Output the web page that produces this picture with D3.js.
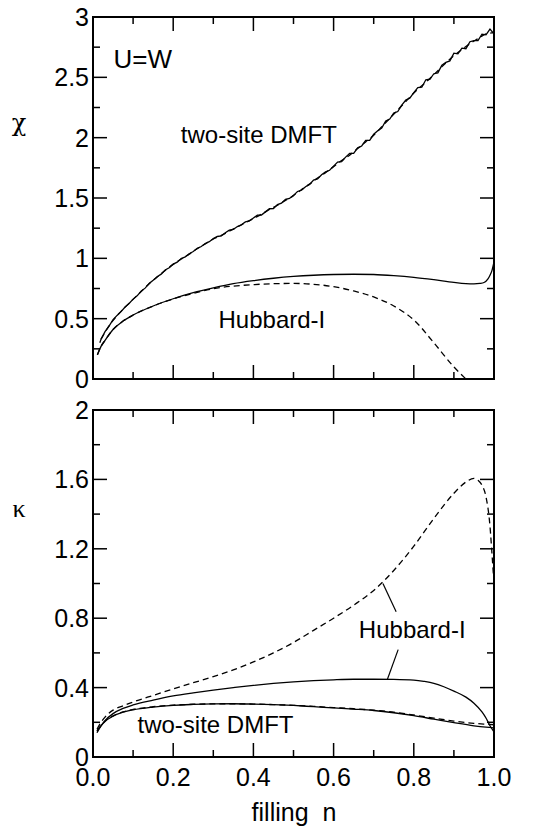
<!DOCTYPE html>
<html><head><meta charset="utf-8">
<script src="https://cdn.jsdelivr.net/npm/d3@7"></script>
<style>
html,body{margin:0;padding:0;background:#fff;}
svg{display:block;}
text{font-family:"Liberation Sans",Arial,Helvetica,sans-serif;fill:#000;}
</style></head>
<body>
<svg id="chart" width="549" height="829"></svg>
<script>
// ---------------- data ----------------
// chi, two-site DMFT (solid), n = 0.02 .. 1.00 step 0.01
const chiDmftSolidN0 = 0.02, chiDmftSolidStep = 0.01;
const chiDmftSolid = [0.33,0.392,0.438,0.491,0.527,0.558,0.597,0.626,0.662,0.689,0.727,0.753,0.791,0.818,0.847,0.869,0.903,0.922,0.952,0.968,
0.998,1.012,1.038,1.057,1.083,1.098,1.123,1.138,1.163,
1.181,1.186,1.212,1.233,1.239,1.263,1.278,1.302,1.310,1.334,1.358,1.359,1.385,1.411,1.413,1.445,1.457,1.488,1.496,1.522,
1.554,1.564,1.594,1.613,1.648,1.658,1.693,1.716,1.730,1.764,
1.797,1.802,1.839,1.869,1.870,1.916,1.931,1.978,1.978,2.028,2.058,2.079,2.139,2.154,2.204,2.217,2.270,2.312,2.327,2.374,
2.415,2.418,2.48,2.484,2.53,2.537,2.601,2.624,2.636,2.70,2.695,2.742,2.737,2.795,2.805,2.805,2.858,2.852,2.90,2.86];
// chi, two-site DMFT (dashed)
const chiDmftDashN = [0.02,0.04,0.06,0.08,0.10,0.12,0.14,0.16,0.18,0.20,0.22,0.24,0.26,0.28,0.30,0.32,0.34,0.36,0.38,0.40,0.42,0.44,0.46,0.48,0.50,0.52,0.54,0.56,0.58,0.60,0.62,0.64,0.66,0.68,0.70,0.72,0.74,0.76,0.78,0.80,0.82,0.84,0.86,0.88,0.90,0.92,0.94,0.96,0.98,1.00];
const chiDmftDash = [0.33,0.44,0.525,0.595,0.66,0.725,0.79,0.845,0.90,0.95,0.995,1.035,1.08,1.12,1.16,1.19,1.225,1.26,1.295,1.33,1.365,1.405,1.44,1.48,1.52,1.57,1.615,1.665,1.71,1.76,1.81,1.855,1.91,1.965,2.02,2.09,2.16,2.23,2.30,2.37,2.43,2.49,2.555,2.62,2.68,2.73,2.78,2.82,2.86,2.87];
// chi, Hubbard-I
const chiHubSolidN = [0.011,0.02,0.03,0.05,0.075,0.1,0.15,0.2,0.25,0.3,0.35,0.4,0.45,0.5,0.55,0.6,0.65,0.7,0.75,0.8,0.85,0.9,0.93,0.95,0.965,0.975,0.985,0.99,0.995,1.0];
const chiHubSolid = [0.20,0.27,0.32,0.41,0.48,0.53,0.605,0.665,0.715,0.755,0.79,0.815,0.835,0.85,0.86,0.866,0.868,0.866,0.857,0.843,0.823,0.80,0.79,0.788,0.792,0.80,0.83,0.86,0.90,0.97];
const chiHubDashN = [0.011,0.02,0.03,0.05,0.075,0.1,0.15,0.2,0.25,0.3,0.35,0.4,0.45,0.5,0.55,0.6,0.65,0.7,0.75,0.8,0.85,0.9,0.93];
const chiHubDash = [0.20,0.27,0.32,0.41,0.48,0.53,0.605,0.663,0.71,0.748,0.77,0.782,0.79,0.792,0.785,0.765,0.73,0.68,0.605,0.49,0.30,0.10,0.0];

// kappa, Hubbard-I
const kapHubDashN = [0.01,0.02,0.03,0.05,0.075,0.1,0.15,0.2,0.25,0.3,0.35,0.4,0.45,0.5,0.55,0.6,0.65,0.7,0.75,0.8,0.85,0.9,0.93,0.95,0.96,0.97,0.98,0.99,0.995,1.0];
const kapHubDash = [0.16,0.20,0.23,0.27,0.295,0.317,0.355,0.392,0.428,0.463,0.502,0.548,0.60,0.66,0.73,0.80,0.875,0.96,1.075,1.215,1.375,1.52,1.585,1.606,1.595,1.567,1.50,1.33,1.17,1.0];
const kapHubSolidN = [0.01,0.02,0.03,0.05,0.075,0.1,0.15,0.2,0.25,0.3,0.35,0.4,0.45,0.5,0.55,0.6,0.65,0.7,0.75,0.8,0.825,0.85,0.875,0.9,0.93,0.95,0.97,0.98,0.99,1.0];
const kapHubSolid = [0.14,0.18,0.21,0.25,0.28,0.30,0.328,0.352,0.37,0.386,0.40,0.413,0.424,0.433,0.44,0.445,0.448,0.448,0.447,0.443,0.436,0.425,0.405,0.38,0.345,0.31,0.26,0.225,0.18,0.145];
// kappa, two-site DMFT
const kapDmftN = [0.01,0.02,0.03,0.05,0.075,0.1,0.15,0.2,0.25,0.3,0.35,0.4,0.45,0.5,0.55,0.6,0.65,0.7,0.75,0.8,0.85,0.9,0.95,0.98,1.0];
const kapDmftSolid = [0.15,0.18,0.205,0.235,0.258,0.272,0.288,0.298,0.303,0.306,0.307,0.305,0.302,0.297,0.29,0.283,0.276,0.268,0.255,0.238,0.218,0.198,0.18,0.172,0.168];
const kapDmftDash  = [0.15,0.182,0.207,0.237,0.26,0.274,0.29,0.299,0.304,0.306,0.307,0.305,0.302,0.298,0.292,0.285,0.278,0.27,0.258,0.242,0.224,0.207,0.194,0.189,0.186];

// axes ticks
const xMajor = [0.0,0.2,0.4,0.6,0.8,1.0];
const xMinor = [0.1,0.3,0.5,0.7,0.9];
const xTickLabels = ["0.0","0.2","0.4","0.6","0.8","1.0"];
const chiMajor = [0,0.5,1,1.5,2,2.5,3];
const chiMinor = [0.25,0.75,1.25,1.75,2.25,2.75];
const chiTickLabels = ["0","0.5","1","1.5","2","2.5","3"];
const kapMajor = [0,0.4,0.8,1.2,1.6,2.0];
const kapMinor = [0.2,0.6,1.0,1.4,1.8];
const kapTickLabels = ["0","0.4","0.8","1.2","1.6","2"];

// annotations (data coords)
const chiNotes = [{t:"U=W", n:0.051, v:2.576},{t:"two-site DMFT", n:0.219, v:1.955},{t:"Hubbard-I", n:0.313, v:0.42}];
const kapNotes = [{t:"Hubbard-I", n:0.663, v:0.685},{t:"two-site DMFT", n:0.111, v:0.137}];
const kapLeaders = [[[0.723,1.0],[0.756,0.837]],[[0.761,0.619],[0.734,0.447]]];

// ---------------- layout ----------------
const svg = d3.select("#chart");
const L = 93, R = 494;
const x = d3.scaleLinear().domain([0,1]).range([L,R]);
const yChi = d3.scaleLinear().domain([0,3]).range([379,17]);
const yKap = d3.scaleLinear().domain([0,2]).range([757,410]);
const FS = 25;

function zip(ns, vs){ return ns.map((n,i)=>[n, vs[i]]); }

function panel(y, major, minor, labels, showX){
  const g = svg.append("g");
  const [y0,y1] = y.range();
  const bigT = 14, smT = 7;
  const tk = g.append("g").attr("stroke","#000").attr("stroke-width",1.5);
  major.forEach(v=>{
    tk.append("line").attr("x1",L).attr("x2",L+bigT).attr("y1",y(v)).attr("y2",y(v));
    tk.append("line").attr("x1",R).attr("x2",R-bigT).attr("y1",y(v)).attr("y2",y(v));
  });
  minor.forEach(v=>{
    tk.append("line").attr("x1",L).attr("x2",L+smT).attr("y1",y(v)).attr("y2",y(v));
    tk.append("line").attr("x1",R).attr("x2",R-smT).attr("y1",y(v)).attr("y2",y(v));
  });
  xMajor.forEach(n=>{
    tk.append("line").attr("x1",x(n)).attr("x2",x(n)).attr("y1",y0).attr("y2",y0-bigT);
    tk.append("line").attr("x1",x(n)).attr("x2",x(n)).attr("y1",y1).attr("y2",y1+bigT);
  });
  xMinor.forEach(n=>{
    tk.append("line").attr("x1",x(n)).attr("x2",x(n)).attr("y1",y0).attr("y2",y0-smT);
    tk.append("line").attr("x1",x(n)).attr("x2",x(n)).attr("y1",y1).attr("y2",y1+smT);
  });
  g.append("rect").attr("x",L).attr("y",y1).attr("width",R-L).attr("height",y0-y1)
    .attr("fill","none").attr("stroke","#000").attr("stroke-width",2);
  major.forEach((v,i)=>{
    g.append("text").attr("x",L-4).attr("y",y(v)).attr("dy","0.36em")
      .attr("text-anchor","end").attr("font-size",FS).text(labels[i]);
  });
  if(showX){
    xMajor.forEach((n,i)=>{
      g.append("text").attr("x",x(n)).attr("y",y0+29).attr("text-anchor","middle")
        .attr("font-size",FS).text(xTickLabels[i]);
    });
  }
  return g;
}

function curve(y, pts, dashed){
  const line = d3.line().x(d=>x(d[0])).y(d=>y(d[1])).curve(d3.curveMonotoneX);
  svg.append("path").attr("d", line(pts)).attr("fill","none").attr("stroke","#000")
    .attr("stroke-width",1.3).attr("stroke-dasharray", dashed ? "6,4" : null);
}

// top panel
panel(yChi, chiMajor, chiMinor, chiTickLabels, false);
const chiDmftSolidPts = chiDmftSolid.map((v,i)=>[chiDmftSolidN0 + i*chiDmftSolidStep, v]);
curve(yChi, zip(chiDmftDashN, chiDmftDash), true);
svg.append("path").attr("d", d3.line().x(d=>x(d[0])).y(d=>yChi(d[1]))([[0.017,0.30]].concat(chiDmftSolidPts)))
  .attr("fill","none").attr("stroke","#000").attr("stroke-width",1.3);
curve(yChi, zip(chiHubDashN, chiHubDash), true);
curve(yChi, zip(chiHubSolidN, chiHubSolid), false);
chiNotes.forEach(a=>{
  svg.append("text").attr("x",x(a.n)).attr("y",yChi(a.v)).attr("font-size",a.t==="U=W"?26:24).text(a.t);
});
svg.append("text").attr("x",19).attr("y",124).attr("text-anchor","middle").attr("dy","0.3em")
  .style("font-family","'DejaVu Serif',serif").attr("font-size",24).text("χ");

// bottom panel
panel(yKap, kapMajor, kapMinor, kapTickLabels, true);
curve(yKap, zip(kapHubDashN, kapHubDash), true);
curve(yKap, zip(kapHubSolidN, kapHubSolid), false);
curve(yKap, zip(kapDmftN, kapDmftDash), true);
curve(yKap, zip(kapDmftN, kapDmftSolid), false);
kapNotes.forEach(a=>{
  svg.append("text").attr("x",x(a.n)).attr("y",yKap(a.v)).attr("font-size",24).text(a.t);
});
kapLeaders.forEach(s=>{
  svg.append("line").attr("x1",x(s[0][0])).attr("y1",yKap(s[0][1])).attr("x2",x(s[1][0])).attr("y2",yKap(s[1][1]))
    .attr("stroke","#000").attr("stroke-width",1.2);
});
svg.append("text").attr("x",19).attr("y",509).attr("text-anchor","middle").attr("dy","0.3em")
  .style("font-family","'Liberation Serif','DejaVu Serif',serif").attr("font-size",26).text("κ");
svg.append("text").attr("x",294).attr("y",821).attr("text-anchor","middle").attr("font-size",25)
  .attr("xml:space","preserve").style("white-space","pre").text("filling  n");
</script>
</body></html>
